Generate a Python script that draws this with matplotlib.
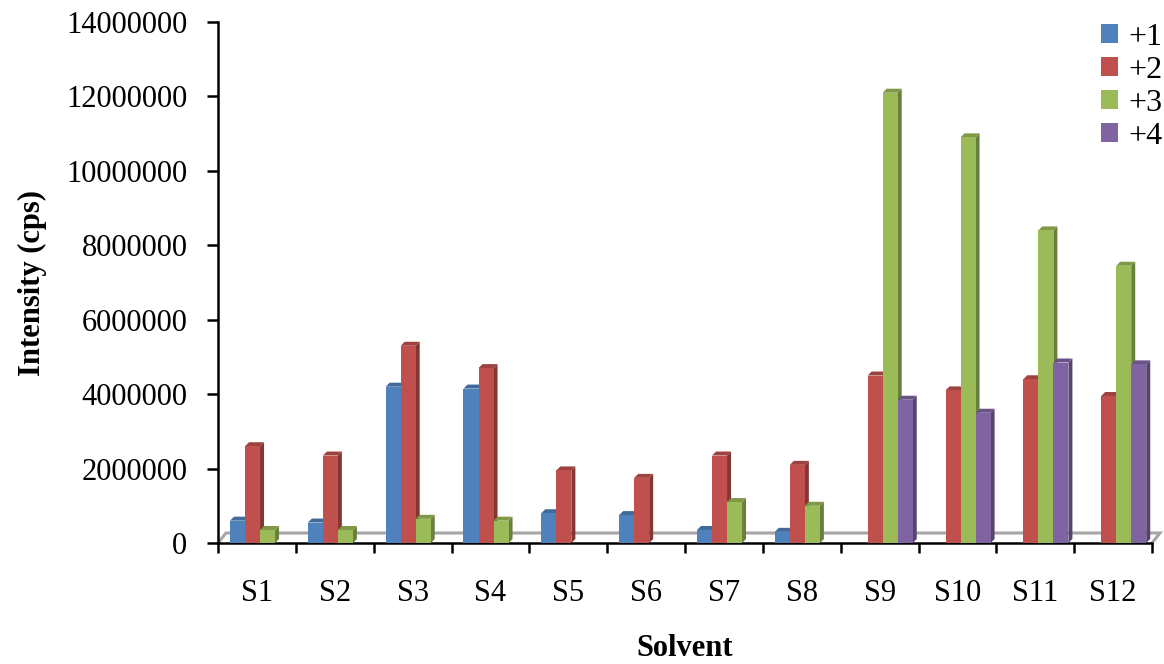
import matplotlib
matplotlib.use("Agg")
import matplotlib.pyplot as plt
import matplotlib.colors as mcolors
from matplotlib.patches import Polygon, Patch
import numpy as np

plt.rcParams['font.family'] = ['Liberation Serif', 'DejaVu Serif']

# ---- data ----
solvents = ["S1", "S2", "S3", "S4", "S5", "S6", "S7", "S8", "S9", "S10", "S11", "S12"]
charge_states = ["+1", "+2", "+3", "+4"]
intensity_p1 = [600000, 550000, 4200000, 4150000, 800000, 750000, 350000, 300000, 0, 0, 0, 0]
intensity_p2 = [2600000, 2350000, 5300000, 4700000, 1950000, 1750000, 2350000, 2100000,
                4500000, 4100000, 4400000, 3950000]
intensity_p3 = [350000, 350000, 650000, 600000, 0, 0, 1100000, 1000000,
                12100000, 10900000, 8400000, 7450000]
intensity_p4 = [0, 0, 0, 0, 0, 0, 0, 0, 3850000, 3500000, 4850000, 4800000]
y_ticks = [0, 2000000, 4000000, 6000000, 8000000, 10000000, 12000000, 14000000]

series = [intensity_p1, intensity_p2, intensity_p3, intensity_p4]
colors = ["#4F81BD", "#C0504D", "#9BBB59", "#8064A2"]

W, H, DPI = 1164, 664, 100
fig = plt.figure(figsize=(W / DPI, H / DPI), dpi=DPI)
ax_l, ax_r, ax_b, ax_t = 218, 1152, 121, 642
ax = fig.add_axes([ax_l / W, ax_b / H, (ax_r - ax_l) / W, (ax_t - ax_b) / H])
ax.set_xlim(0, len(solvents))
ax.set_ylim(0, y_ticks[-1])

# pixel -> data scale factors for the pseudo-3D depth
px_x = len(solvents) / (ax_r - ax_l)
px_y = y_ticks[-1] / (ax_t - ax_b)
depth = 4.0
dx, dy = depth * px_x, depth * px_y

slot = 0.193
start = 0.154
x_idx = np.arange(len(solvents))


def shade(c, f):
    r, g, b = mcolors.to_rgb(c)
    if f < 1:
        return (r * f, g * f, b * f)
    t = f - 1
    return (r + (1 - r) * t, g + (1 - g) * t, b + (1 - b) * t)


# floor of the 3D plot area
floor_y = 10 * px_y
floor_x = 8 * px_x
ax.plot([0, floor_x, len(solvents) + floor_x, len(solvents)],
        [0, floor_y, floor_y, 0], color="#A6A6A6", lw=2.2, zorder=1,
        clip_on=False, solid_joinstyle="miter")

for i, (vals, col) in enumerate(zip(series, colors)):
    vals = np.asarray(vals, dtype=float)
    xs = x_idx + start + i * slot
    bars = ax.bar(xs, vals, width=slot, align="edge", color=col,
                  linewidth=0, zorder=3)
    for rect, v in zip(bars.patches, vals):
        if v <= 0:
            rect.set_visible(False)
            continue
        x0 = rect.get_x()
        x1 = x0 + rect.get_width()
        h = rect.get_height()
        side = Polygon([(x1, 0), (x1 + dx, dy), (x1 + dx, h + dy), (x1, h)],
                       closed=True, facecolor=shade(col, 0.68), edgecolor="none",
                       zorder=2)
        top = Polygon([(x0, h), (x1, h), (x1 + dx, h + dy), (x0 + dx, h + dy)],
                      closed=True, facecolor=shade(col, 0.82), edgecolor="none",
                      zorder=2)
        ax.add_patch(side)
        ax.add_patch(top)

# axes styling
for s in ["top", "right"]:
    ax.spines[s].set_visible(False)
for s in ["left", "bottom"]:
    ax.spines[s].set_linewidth(1.8)
    ax.spines[s].set_color("black")

ax.set_yticks(y_ticks)
ax.set_yticklabels([str(v) for v in y_ticks], fontsize=22)
ax.tick_params(axis="y", direction="out", length=8, width=1.8, pad=14)

ax.set_xticks(np.arange(len(solvents) + 1))
ax.set_xticklabels([])
ax.tick_params(axis="x", which="major", direction="out", length=7, width=1.8)
ax.set_xticks(x_idx + 0.5, minor=True)
ax.set_xticklabels(solvents, minor=True, fontsize=22)
ax.tick_params(axis="x", which="minor", length=0, pad=26)

ax.set_ylabel("Intensity (cps)", fontsize=22, fontweight="bold", labelpad=14)
ax.set_xlabel("Solvent", fontsize=22, fontweight="bold", labelpad=19)

handles = [Patch(facecolor=c, edgecolor="none") for c in colors]
fig.legend(handles, charge_states, loc="upper right",
           bbox_to_anchor=(1162 / W, 1.0 - 23 / H), frameon=False, fontsize=23,
           handlelength=0.55, handleheight=0.55, handletextpad=0.3,
           labelspacing=0.12, borderpad=0.0, borderaxespad=0.0)

fig.savefig("out.png", dpi=DPI)
